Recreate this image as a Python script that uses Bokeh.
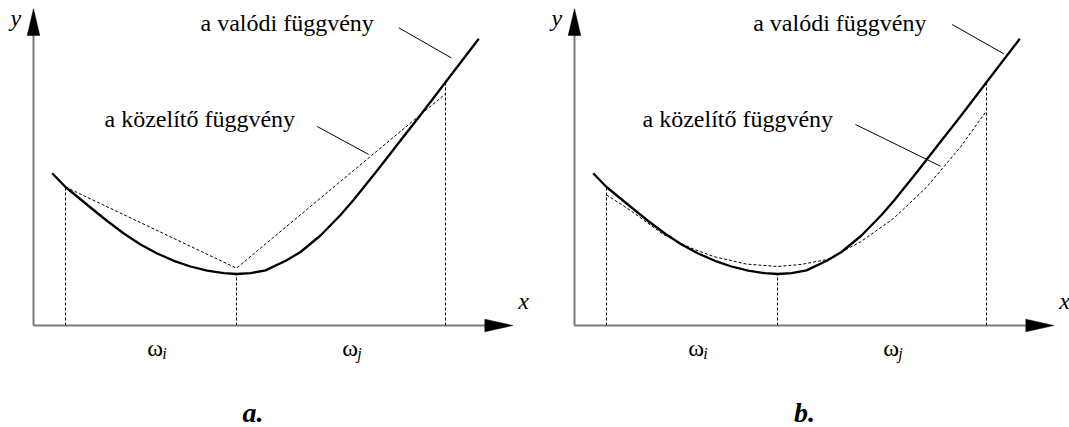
from bokeh.plotting import figure
from bokeh.layouts import row
from bokeh.models import Range1d
from bokeh.core.properties import value
from bokeh.embed import file_html
from bokeh.resources import INLINE
import numpy as np

# --- data (1 unit = 10 px) -------------------------------------------------
# the true function, shared by both panels
true_x = [1.87, 3.2, 5.7, 7.37, 9.03, 10.7, 12.37, 14.03, 15.7, 17.37, 19.03,
          20.3, 21.7, 23.2, 25.27, 26.7, 28.7, 30.7, 32.0, 34.37, 36.7, 38.53,
          41.2, 44.53]
true_y = [15.23, 13.85, 11.8, 10.45, 9.2, 8.1, 7.2, 6.47, 5.9, 5.48, 5.23,
          5.15, 5.24, 5.51, 6.5, 7.35, 9.0, 11.05, 12.55, 15.5, 18.5, 20.83,
          24.33, 28.67]

# interval boundaries on the x axis
split_x = [3.2, 20.3, 41.2]

# piecewise linear approximation (panel a)
approx_a_x = [3.2, 20.3, 41.2]
approx_a_y = [13.85, 5.73, 23.17]

# smooth approximation (panel b)
approx_b_x = [3.2, 5.6, 8.9, 11.6, 13.9, 17.2, 20.3, 22.7, 25.27, 28.6, 31.9,
              35.2, 38.6, 41.1]
approx_b_y = [13.07, 11.5, 9.1, 7.76, 6.9, 6.14, 5.9, 6.11, 6.6, 8.36, 10.7,
              13.82, 17.85, 21.33]

region_names = ["ω", "ω"]
region_subs = ["i", "j"]
region_x = [11.37, 30.87]

x_axis_len = 47.93
y_axis_len = 31.67

label_true = "a valódi függvény"
label_approx = "a közelítő függvény"

SERIF = value("Liberation Serif")
AXIS_COLOR = "#7a7a7a"


def make_panel(width, x_lo, ax, ay, panel_tag, tag_x, true_lbl_x, approx_lbl_x,
               true_leader, approx_leader):
    p = figure(width=width, height=427, output_backend="svg",
               toolbar_location=None, min_border=0,
               x_range=Range1d(x_lo, x_lo + width / 10.0),
               y_range=Range1d(-10.2, 32.5))
    p.axis.visible = False
    p.grid.visible = False
    p.outline_line_color = None
    p.background_fill_color = "white"
    p.border_fill_color = "white"

    # axes with arrow heads
    p.line([0, x_axis_len - 2.0], [0, 0], line_color=AXIS_COLOR, line_width=2)
    p.line([0, 0], [0, y_axis_len - 2.0], line_color=AXIS_COLOR, line_width=2)
    hl, hw = 2.8, 0.63
    p.patch([x_axis_len, x_axis_len - hl, x_axis_len - hl],
            [0, hw, -hw], color="black", line_width=0.5)
    p.patch([0, -hw, hw],
            [y_axis_len, y_axis_len - 2.67, y_axis_len - 2.67],
            color="black", line_width=0.5)

    # interval boundaries
    tops = np.interp(split_x, true_x, true_y)
    for sx, ty in zip(split_x, tops):
        p.line([sx, sx], [0, ty], line_color="black", line_width=1,
               line_dash="3 2")

    # approximation and true function
    p.line(ax, ay, line_color="black", line_width=1, line_dash="3 2")
    p.line(true_x, true_y, line_color="black", line_width=2.3,
           line_join="round")

    # leader lines
    p.line(*true_leader, line_color="black", line_width=1)
    p.line(*approx_leader, line_color="black", line_width=1)

    # texts
    p.text([true_lbl_x], [30.3], text=[label_true], text_font=SERIF,
           text_font_size="24px", text_baseline="alphabetic")
    p.text([approx_lbl_x], [20.63], text=[label_approx], text_font=SERIF,
           text_font_size="24px", text_baseline="alphabetic")
    p.text(region_x, [-2.2, -2.2], text=region_names, text_font=SERIF,
           text_font_size="24px", text_baseline="alphabetic")
    p.text([rx + 1.5 for rx in region_x], [-2.77, -2.77], text=region_subs,
           text_font=SERIF, text_font_size="16px", text_font_style="italic",
           text_baseline="alphabetic")
    p.text([-2.3], [30.8], text=["y"], text_font=SERIF, text_font_size="24px",
           text_font_style="italic", text_baseline="alphabetic")
    p.text([49.0], [2.45], text=["x"], text_font=SERIF, text_font_size="24px",
           text_font_style="italic", text_baseline="alphabetic",
           text_align="center")
    p.text([tag_x], [-8.74], text=[panel_tag], text_font=SERIF,
           text_font_size="28px", text_font_style="bold italic",
           text_baseline="alphabetic", text_align="center")
    return p


pa = make_panel(534, -3.3, approx_a_x, approx_a_y, "a.", 21.95, 16.7, 7.1,
                ([36.53, 41.77], [29.77, 26.77]),
                ([28.37, 33.53], [19.9, 17.1]))
pb = make_panel(535, -4.0, approx_b_x, approx_b_y, "b.", 23.0, 17.87, 6.8,
                ([37.77, 42.93], [30.1, 27.17]),
                ([28.1, 36.6], [20.1, 15.93]))

layout = row(pa, pb)
open("out.html", "w").write(file_html(layout, INLINE))
